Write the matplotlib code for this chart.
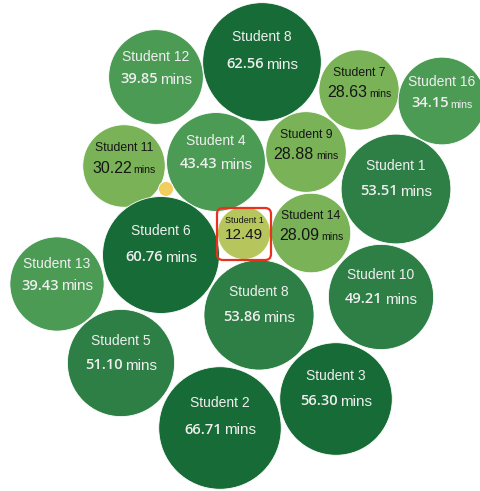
import matplotlib
matplotlib.use("Agg")
import matplotlib.pyplot as plt
from matplotlib.patches import Circle, FancyBboxPatch
import numpy as np

# Time spent per student (minutes)
names = ["Student 12", "Student 8", "Student 7", "Student 16", "Student 11",
         "Student 4", "Student 9", "Student 1", "Student 1", "Student 14",
         "Student 6", "Student 13", "Student 8", "Student 10", "Student 5",
         "Student 3", "Student 2", ""]
minutes = [39.85, 62.56, 28.63, 34.15, 30.22,
           43.43, 28.88, 53.51, 12.49, 28.09,
           60.76, 39.43, 53.86, 49.21, 51.10,
           56.30, 66.71, 1.0]

# Packed layout of the bubble centres (pixel space)
cx = [156, 262, 359, 442, 124, 216, 306, 396, 244, 311, 161, 57, 259, 381, 121, 336, 220, 166]
cy = [77, 62, 90, 101, 166, 162, 152, 189, 233, 233, 255, 284, 315, 297, 363, 399, 428, 189]

W, H = 481, 491
fig = plt.figure(figsize=(W / 100, H / 100), dpi=100)
ax = fig.add_axes([0, 0, 1, 1])
ax.set_xlim(0, W)
ax.set_ylim(H, 0)
ax.set_aspect("equal")
ax.axis("off")
plt.rcParams["font.family"] = ["Liberation Sans", "DejaVu Sans"]
NUM_FONT = ["Open Sans", "Liberation Sans", "DejaVu Sans"]

SCALE = 7.5  # radius per sqrt(minute)


def bubble_style(v, label):
    if not label:
        return "#F0CF5E", "#000000", True
    if v >= 55:
        return "#176B36", "#EFEFEF", False
    if v >= 45:
        return "#2E7F46", "#EFEFEF", False
    if v >= 33:
        return "#4B9B55", "#EFEFEF", False
    if v >= 25:
        return "#7AB257", "#151515", True
    return "#B6C65C", "#151515", True


fig.canvas.draw()
renderer = fig.canvas.get_renderer()

for name, v, x, y in zip(names, minutes, cx, cy):
    r = SCALE * np.sqrt(v)
    face, tc, light = bubble_style(v, name)
    ax.add_patch(Circle((x, y), r, facecolor=face, edgecolor="white",
                        linewidth=0.6, zorder=2))
    if not name:
        continue
    if v < 20:
        name_fs, num_fs, unit = 6.5, 11, ""
    elif light:
        name_fs, num_fs, unit = 8.8, 11.5, "mins"
    else:
        name_fs, num_fs, unit = 10, 10.5, "mins"
    unit_fs = 7.6 if (light or v < 36) else 11
    name_y = y - (0.38 * r + 2)
    val_y = y + 2
    ax.text(x, name_y, name, ha="center", va="center", fontsize=name_fs,
            color=tc, zorder=3)
    if light:
        num = ax.text(x, val_y, f"{v:.2f}", ha="left", va="center",
                      fontsize=num_fs, color=tc, zorder=3)
    else:
        num = ax.text(x, val_y, f"{v:.2f}", ha="left", va="center",
                      fontsize=num_fs, color=tc, zorder=3,
                      family=NUM_FONT, fontweight="semibold")
    if unit:
        un = ax.text(x, val_y, unit, ha="left", va="center",
                     fontsize=unit_fs, color=tc, zorder=3)
        wn = num.get_window_extent(renderer).width
        wu = un.get_window_extent(renderer).width
        gap = 2
        left = x - (wn + gap + wu) / 2
        num.set_x(left)
        un.set_x(left + wn + gap)
        un.set_y(val_y + (1.5 if unit_fs < num_fs else 0.5))
    else:
        num.set_ha("center")

# Highlight around the shortest time
ax.add_patch(FancyBboxPatch((217, 208), 54, 52,
                            boxstyle="round,pad=0,rounding_size=6",
                            facecolor="none", edgecolor="#E8321E",
                            linewidth=1.6, zorder=4))

fig.savefig("out.png", dpi=100, facecolor="white")
